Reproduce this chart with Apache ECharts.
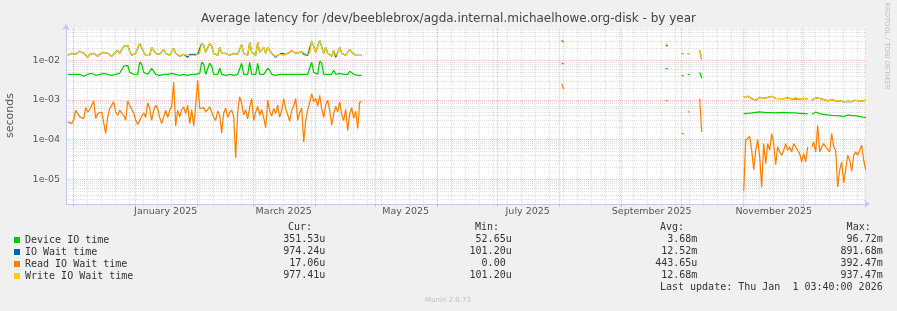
<!DOCTYPE html>
<html>
<head>
<meta charset="utf-8">
<title>Average latency by year</title>
<script src="https://cdn.jsdelivr.net/npm/echarts@6/dist/echarts.min.js"></script>
<style>
html,body{margin:0;padding:0;background:#f0f0f0;overflow:hidden;}
#chart{width:897px;height:311px;}
</style>
</head>
<body>
<div id="chart"></div>
<script>
// ---------- text ----------
const titleText = 'Average latency for /dev/beeblebrox/agda.internal.michaelhowe.org-disk - by year';
const yAxisName = 'seconds';
const sideText = 'RRDTOOL / TOBI OETIKER';
const footerText = 'Munin 2.0.73';
const lastUpdateText = 'Last update: Thu Jan  1 03:40:00 2026';
const monthNames = ['January','February','March','April','May','June','July','August','September','October','November','December'];

// ---------- series ----------
const seriesNames = ['Device IO time', 'IO Wait time', 'Read IO Wait time', 'Write IO Wait time'];
const seriesColors = ['#00cc00', '#0066b3', '#ff8000', '#ffcc00'];

// legend statistics
const legendCur = ['351.53u', '974.24u', '17.06u', '977.41u'];
const legendMin = ['52.65u', '101.20u', '0.00 ', '101.20u'];
const legendAvg = ['3.68m', '12.52m', '443.65u', '12.68m'];
const legendMax = ['96.72m', '891.68m', '392.47m', '937.47m'];

// axis tick labels
const xLabelDates = ['2025-01-16', '2025-03-16', '2025-05-16', '2025-07-16', '2025-09-16', '2025-11-16'];
const yMajorTicks = [1e-5, 1e-4, 1e-3, 1e-2];
const yMinorMultipliers = [2, 3, 4, 5, 6, 7, 8, 9];

// ---------- daily values (milliseconds) ----------
// segment 1: one value per day from 2024-11-28
const seg1Start = '2024-11-28';
const deviceSeg1Ms = [
 4.43,4.70,4.43,4.18,4.43,4.70,4.43,4.18,3.94,4.18,
 4.43,4.43,4.70,4.43,4.18,4.43,4.43,4.43,4.70,4.43,
 4.43,4.43,4.18,4.43,4.43,4.43,4.70,4.43,7.05,6.66,
 7.48,4.97,4.43,4.43,4.70,4.43,8.90,7.92,4.97,4.43,
 4.43,4.70,6.28,5.93,4.43,4.43,4.18,4.43,4.43,4.18,
 4.43,4.43,4.70,4.43,4.43,4.43,4.18,4.43,4.43,4.43,
 4.18,4.43,4.43,4.43,4.43,4.43,4.70,8.90,7.92,4.43,
 4.70,8.40,7.05,4.43,4.43,4.43,6.28,4.43,4.43,4.18,
 4.43,4.43,4.43,4.18,4.43,4.43,4.43,8.40,4.43,4.43,
 4.43,8.90,4.43,4.43,4.43,8.40,4.43,4.43,4.43,4.43,
 6.28,5.59,4.43,4.43,4.18,4.43,4.43,4.18,4.43,4.43,
 4.43,4.18,4.43,4.43,4.43,4.43,4.43,4.70,4.43,4.43,
 4.43,4.43,8.90,4.97,4.43,4.43,9.44,8.40,4.43,4.43,
 4.43,4.18,4.43,5.59,4.43,4.43,4.70,4.43,4.43,4.43,
 4.43,5.28,4.97,4.43,4.43,4.18,4.18,4.18
];
const ioWaitSeg1Ms = [
 13.4,14.2,15.0,15.9,14.2,15.0,16.9,15.9,15.0,13.4,
 11.9,14.2,14.2,15.0,13.4,12.6,14.2,15.0,15.9,16.9,
 15.0,13.4,12.6,14.2,15.9,17.9,15.0,13.4,22.6,21.3,
 23.9,16.9,13.4,14.2,15.0,14.2,26.9,25.4,15.9,13.4,
 14.2,13.4,21.3,20.1,15.0,13.4,14.2,13.4,19.0,15.0,
 14.2,13.4,15.0,20.1,15.0,13.4,12.6,13.4,14.2,13.4,
 11.9,14.2,13.4,14.2,13.4,14.2,15.0,26.9,23.9,15.9,
 15.0,26.9,22.6,15.0,14.2,13.4,21.3,15.0,14.2,15.0,
 14.2,13.4,14.2,15.0,14.2,14.2,15.0,25.4,15.0,14.2,
 13.4,28.5,15.9,14.2,13.4,28.5,15.9,14.2,21.3,15.0,
 21.3,20.1,15.0,13.4,11.9,13.4,14.2,15.0,13.4,14.2,
 15.0,15.9,17.9,15.9,14.2,15.0,15.9,16.9,14.2,14.2,
 13.4,15.0,30.2,22.6,15.9,14.2,32.0,28.5,15.0,21.3,
 15.0,13.4,12.6,17.9,11.9,15.9,21.3,15.0,14.2,13.4,
 12.6,19.0,15.9,14.2,13.4,14.2,13.4,13.4
];
const readSeg1Ms = [
 0.277,0.305,0.252,0.318,0.546,0.569,0.371,0.408,0.337,0.640,
 0.495,0.569,0.546,0.940,0.337,0.450,0.495,0.495,0.450,0.141,
 0.371,0.603,0.731,0.887,0.495,0.408,0.546,0.467,0.408,0.305,
 0.940,0.887,0.569,0.467,0.305,0.240,0.252,0.385,0.467,0.357,
 0.838,0.603,0.305,0.546,0.731,0.603,0.357,0.252,0.371,0.546,
 0.357,0.546,0.690,2.84,0.220,0.546,0.371,0.569,0.664,0.450,
 0.731,0.252,0.569,0.216,0.731,3.13,0.603,0.546,0.640,0.495,
 0.450,0.664,0.495,0.357,0.305,0.520,0.410,0.145,0.460,0.620,
 0.360,0.480,0.550,0.380,0.034,0.500,1.19,0.810,0.420,0.560,
 0.330,0.650,1.08,0.305,0.490,0.680,0.410,0.570,0.350,0.200,
 0.980,0.520,0.390,0.610,0.450,0.740,0.360,0.530,1.08,0.600,
 0.420,0.290,0.550,0.700,1.08,0.305,0.480,0.620,0.086,0.300,
 0.560,0.850,1.44,0.900,1.10,0.700,1.31,0.600,0.360,0.750,
 0.980,0.550,0.230,0.440,0.680,0.500,0.890,0.420,0.300,0.580,
 0.166,0.450,0.630,0.340,0.520,0.190,0.890,0.890
];
const writeSeg1Ms = [
 13.4,14.2,15.0,15.9,14.2,15.0,16.9,15.9,15.0,13.4,
 11.9,14.2,15.9,15.0,13.4,12.6,14.2,15.0,15.9,16.9,
 15.0,13.4,12.6,14.2,15.9,17.9,15.0,13.4,22.6,21.3,
 23.9,16.9,13.4,14.2,15.0,14.2,26.9,25.4,15.9,13.4,
 14.2,13.4,21.3,20.1,15.0,13.4,14.2,15.0,19.0,15.0,
 14.2,13.4,15.0,20.1,15.0,13.4,12.6,13.4,14.2,13.4,
 13.4,14.2,13.4,14.2,13.4,14.2,15.0,26.9,23.9,15.9,
 15.0,26.9,22.6,15.0,14.2,13.4,21.3,15.0,14.2,15.0,
 14.2,13.4,14.2,15.0,14.2,14.2,15.0,25.4,15.0,14.2,
 13.4,28.5,15.9,14.2,13.4,28.5,15.9,14.2,21.3,15.0,
 21.3,20.1,15.0,13.4,12.6,13.4,14.2,15.0,13.4,14.2,
 15.0,15.9,17.9,15.9,14.2,15.0,15.9,16.9,15.9,14.2,
 13.4,15.0,30.2,22.6,15.9,14.2,32.0,28.5,15.0,21.3,
 15.0,13.4,12.6,17.9,13.4,15.9,21.3,15.0,14.2,13.4,
 14.2,19.0,15.9,14.2,13.4,14.2,13.4,13.4
];

// segment 2: isolated samples (null = no data)
const midDates = ['2025-08-02','2025-08-03','2025-08-04','2025-09-23','2025-09-24','2025-09-25','2025-10-01','2025-10-02','2025-10-03','2025-10-04','2025-10-05','2025-10-06','2025-10-10','2025-10-11'];
const deviceMidMs = [8.25,8.25,null,6.2,6.2,null,4.1,4.1,null,4.35,4.35,null,4.9,3.6];
const ioWaitMidMs = [31.5,28.5,null,23.5,23.5,null,14.8,14.8,null,14.8,14.8,null,17.9,10.6];
const readMidMs   = [2.6,1.85,null,0.96,0.96,null,0.14,0.14,null,0.50,0.50,null,1.08,0.155];
const writeMidMs  = [30.2,27.4,null,25.8,25.8,null,14.8,14.8,null,14.8,14.8,null,17.9,11.0];

// segment 3: one value per day from 2025-11-01
const seg3Start = '2025-11-01';
const deviceSeg3Ms = [
 0.450,0.450,0.459,0.468,0.468,0.477,0.486,0.486,0.495,0.495,
 0.486,0.468,0.477,0.486,0.477,0.450,0.468,0.486,0.477,0.486,
 0.486,0.486,0.477,0.477,0.468,0.468,0.468,0.468,0.459,0.459,
 0.450,0.450,0.441,null,0.433,0.468,0.495,0.468,0.450,0.441,
 0.433,0.425,0.416,0.408,0.408,0.401,0.401,0.401,0.393,0.385,
 0.378,0.393,0.416,0.378,0.401,0.433,0.401,0.385,0.378,0.371,
 0.364,0.3515
];
const ioWaitSeg3Ms = [
 1.186,1.209,1.233,1.140,1.076,1.015,0.977,1.097,1.163,1.186,
 1.097,1.000,1.163,1.209,1.233,1.163,1.097,1.035,1.076,1.119,
 1.076,1.055,1.119,1.119,1.055,1.097,1.080,1.055,1.055,1.140,
 1.097,1.055,1.055,null,0.977,1.035,1.119,1.140,1.097,1.055,
 1.015,0.977,0.939,0.977,1.015,0.958,0.939,0.977,0.958,0.904,
 0.887,0.870,0.922,0.939,0.904,0.939,0.977,0.958,0.939,0.977,
 0.958,0.9742
];
const readSeg3Ms = [
 0.00492,0.0954,0.105,0.120,0.0533,0.0173,0.0533,0.0993,0.0362,0.0061,
 0.0787,0.0246,0.0787,0.0533,0.141,0.0787,0.0232,0.0648,0.0484,0.0399,
 0.0533,0.0787,0.0533,0.0648,0.0484,0.0787,0.0787,0.0533,0.0440,0.0271,
 0.0440,0.0271,0.0648,null,0.0648,0.0867,0.0484,0.229,0.0484,0.0648,
 0.0787,0.0648,0.0648,0.0484,0.141,0.0648,0.0533,0.00633,0.0167,0.0271,
 0.00798,0.0173,0.0399,0.0299,0.0157,0.0399,0.0484,0.0399,0.0362,0.0714,
 0.0299,0.01706
];
const writeSeg3Ms = [
 1.186,1.209,1.233,1.140,1.076,1.015,0.977,1.097,1.163,1.186,
 1.097,1.035,1.163,1.209,1.233,1.163,1.097,1.035,1.076,1.119,
 1.076,1.055,1.119,1.119,1.055,1.097,1.119,1.055,1.055,1.140,
 1.097,1.055,1.055,null,0.977,1.035,1.119,1.140,1.097,1.055,
 1.015,0.977,0.939,0.977,1.015,0.958,0.939,0.977,0.958,0.904,
 0.887,0.870,0.922,0.939,0.904,0.939,0.977,0.958,0.939,0.977,
 0.958,0.9774
];

// ---------- helpers ----------
const DAY = 86400000;
const utc = s => { const p = s.split('-').map(Number); return Date.UTC(p[0], p[1] - 1, p[2]); };
const X_MIN = Date.UTC(2024, 10, 27, 3, 40);
const X_MAX = Date.UTC(2026, 0, 1, 3, 40);
const Y_MIN = 2.34e-6;
const Y_MAX = 0.0655;

function buildData(seg1, mid, seg3) {
  const out = [];
  const toS = v => (v == null ? null : v / 1000);
  const s1 = utc(seg1Start);
  seg1.forEach((v, i) => out.push([s1 + i * DAY, toS(v)]));
  out.push([s1 + seg1.length * DAY, null]);
  midDates.forEach((d, i) => out.push([utc(d), toS(mid[i])]));
  out.push([utc(midDates[midDates.length - 1]) + DAY, null]);
  const s3 = utc(seg3Start);
  seg3.forEach((v, i) => out.push([s3 + i * DAY, toS(v)]));
  return out;
}
const seriesData = [
  buildData(deviceSeg1Ms, deviceMidMs, deviceSeg3Ms),
  buildData(ioWaitSeg1Ms, ioWaitMidMs, ioWaitSeg3Ms),
  buildData(readSeg1Ms, readMidMs, readSeg3Ms),
  buildData(writeSeg1Ms, writeMidMs, writeSeg3Ms)
];

// grid positions
const monthStarts = [];
for (let y = 2024, m = 11; ; m++) {
  if (m > 11) { m = 0; y++; }
  const t = Date.UTC(y, m, 1);
  if (t > X_MAX) break;
  if (t >= X_MIN) monthStarts.push(t);
}
const sundays = [];
for (let t = Date.UTC(2024, 11, 1) - 7 * DAY; t <= X_MAX; t += 7 * DAY) {
  if (t >= X_MIN) sundays.push(t);
}
const yMinorTicks = [];
for (let e = -6; e <= -2; e++) {
  yMinorMultipliers.forEach(k => {
    const v = k * Math.pow(10, e);
    if (v >= Y_MIN && v <= Y_MAX) yMinorTicks.push(v);
  });
}
const xLabelValues = xLabelDates.map(utc);

// ---------- style ----------
const AXIS_COLOR = '#c4c8f0';
const MAJOR_GRID = 'rgba(235,120,120,0.45)';
const MINOR_GRID = 'rgba(150,150,150,0.30)';
const LABEL_COLOR = '#555';
const MONO = 'DejaVu Sans Mono';
const SANS = 'DejaVu Sans';

const rowY = [239.7, 251.7, 263.7, 275.7];
const monoText = (x, y, text) => ({
  type: 'text', x: x, y: y, silent: true,
  style: { text: text, fontFamily: MONO, fontSize: 10, fill: '#333', align: 'right', verticalAlign: 'middle' }
});
const graphics = [
  { type: 'text', x: 448.5, y: 18.5, silent: true,
    style: { text: titleText, fontFamily: SANS, fontSize: 12, fill: '#444', align: 'center', verticalAlign: 'middle' } },
  { type: 'text', x: 10, y: 115.5, rotation: Math.PI / 2, silent: true,
    style: { text: yAxisName, fontFamily: SANS, fontSize: 11, fill: LABEL_COLOR, align: 'center', verticalAlign: 'middle' } },
  { type: 'text', x: 887, y: 46, rotation: -Math.PI / 2, silent: true,
    style: { text: sideText, fontFamily: SANS, fontSize: 6.8, fill: '#bdbdbd', align: 'center', verticalAlign: 'middle' } },
  { type: 'text', x: 448, y: 300, silent: true,
    style: { text: footerText, fontFamily: SANS, fontSize: 7, fill: '#c0c0c0', align: 'center', verticalAlign: 'middle' } },
  monoText(312, 227.5, 'Cur:'),
  monoText(499, 227.5, 'Min:'),
  monoText(684, 227.5, 'Avg:'),
  monoText(870.7, 227.5, 'Max:'),
  monoText(882.7, 287.7, lastUpdateText)
];
seriesNames.forEach((n, i) => {
  graphics.push(monoText(325.3, rowY[i], legendCur[i]));
  graphics.push(monoText(511.7, rowY[i], legendMin[i]));
  graphics.push(monoText(697.3, rowY[i], legendAvg[i]));
  graphics.push(monoText(882.7, rowY[i], legendMax[i]));
});

const option = {
  animation: false,
  backgroundColor: '#f0f0f0',
  textStyle: { fontFamily: SANS },
  grid: { left: 66, top: 28, width: 800, height: 176, show: true, backgroundColor: '#ffffff', borderWidth: 0 },
  legend: {
    data: seriesNames, orient: 'vertical', left: 14, top: 234, padding: 0,
    itemWidth: 6, itemHeight: 6, itemGap: 0, icon: 'rect', selectedMode: false,
    itemStyle: { borderWidth: 0 },
    textStyle: { fontFamily: MONO, fontSize: 10, color: '#333', lineHeight: 12 }
  },
  xAxis: [
    {
      type: 'value', min: X_MIN, max: X_MAX, position: 'bottom', z: 2,
      axisLine: { show: true, symbol: ['none', 'arrow'], symbolSize: [6, 6], symbolOffset: [0, 4], lineStyle: { color: AXIS_COLOR, width: 1 } },
      axisTick: { show: true, customValues: monthStarts, length: 3, lineStyle: { color: MAJOR_GRID } },
      axisLabel: {
        customValues: xLabelValues, margin: 3, fontSize: 9.5, color: LABEL_COLOR, fontFamily: SANS,
        formatter: v => { const d = new Date(v); return monthNames[d.getUTCMonth()] + ' ' + d.getUTCFullYear(); }
      },
      splitLine: { show: true, lineStyle: { color: MAJOR_GRID, width: 1, type: [1, 1] } }
    },
    {
      type: 'value', min: X_MIN, max: X_MAX, position: 'bottom', z: 1,
      axisLine: { show: false },
      axisTick: { show: true, customValues: sundays, length: 2, lineStyle: { color: MINOR_GRID } },
      axisLabel: { show: false },
      splitLine: { show: true, lineStyle: { color: MINOR_GRID, width: 1, type: [1, 1] } }
    }
  ],
  yAxis: [
    {
      type: 'log', logBase: 10, min: Y_MIN, max: Y_MAX, position: 'left', z: 2,
      axisLine: { show: true, symbol: ['none', 'arrow'], symbolSize: [6, 6], symbolOffset: [0, 4], lineStyle: { color: AXIS_COLOR, width: 1 } },
      axisTick: { show: false, customValues: yMajorTicks },
      axisLabel: {
        customValues: yMajorTicks, margin: 6, fontSize: 9.5, color: LABEL_COLOR, fontFamily: SANS,
        formatter: v => { const e = Math.round(Math.log10(v)); return '1e-' + String(-e).padStart(2, '0'); }
      },
      splitLine: { show: true, lineStyle: { color: MAJOR_GRID, width: 1, type: [1, 1] } }
    },
    {
      type: 'log', logBase: 10, min: Y_MIN, max: Y_MAX, position: 'left', z: 1,
      axisLine: { show: false },
      axisTick: { show: false, customValues: yMinorTicks },
      axisLabel: { show: false },
      splitLine: { show: true, lineStyle: { color: MINOR_GRID, width: 1, type: [1, 1] } }
    }
  ],
  series: seriesNames.map((n, i) => ({
    name: n, type: 'line', xAxisIndex: 0, yAxisIndex: 0, z: 3,
    data: seriesData[i], showSymbol: false, symbol: 'none', connectNulls: false,
    lineStyle: { color: seriesColors[i], width: 1.25 },
    itemStyle: { color: seriesColors[i] },
    emphasis: { disabled: true }
  })),
  graphic: graphics
};

const chart = echarts.init(document.getElementById('chart'), null, { renderer: 'canvas' });
chart.setOption(option);
</script>
</body>
</html>
